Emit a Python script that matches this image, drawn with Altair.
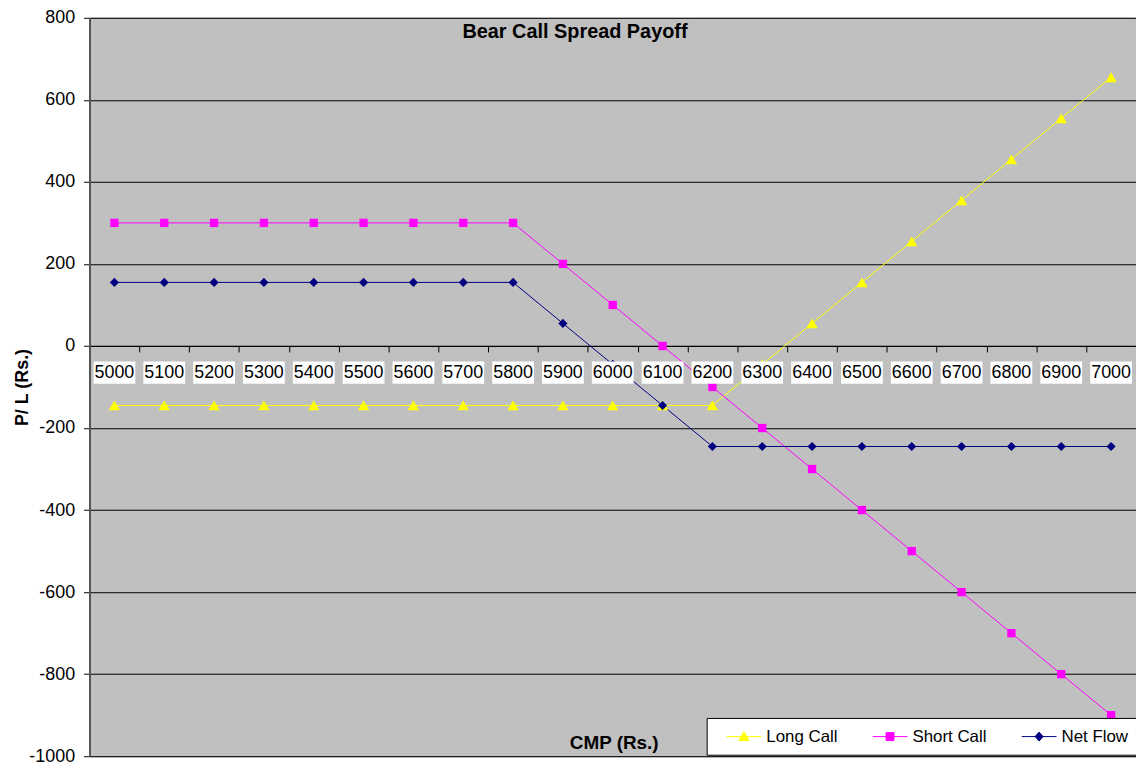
import altair as alt
import pandas as pd

FONT = "Liberation Sans"

cmp_values = [5000, 5100, 5200, 5300, 5400, 5500, 5600, 5700, 5800, 5900, 6000,
              6100, 6200, 6300, 6400, 6500, 6600, 6700, 6800, 6900, 7000]
long_call = [-145, -145, -145, -145, -145, -145, -145, -145, -145, -145, -145,
             -145, -145, -45, 55, 155, 255, 355, 455, 555, 655]
short_call = [300, 300, 300, 300, 300, 300, 300, 300, 300, 200, 100,
              0, -100, -200, -300, -400, -500, -600, -700, -800, -900]
net_flow = [155, 155, 155, 155, 155, 155, 155, 155, 155, 55, -45,
            -145, -245, -245, -245, -245, -245, -245, -245, -245, -245]
series_names = ["Long Call", "Short Call", "Net Flow"]
series_colors = ["#FFFF00", "#FF00FF", "#000080"]
y_ticks = [-1000, -800, -600, -400, -200, 0, 200, 400, 600, 800]

rows = []
for name, vals in zip(series_names, [long_call, short_call, net_flow]):
    for c, v in zip(cmp_values, vals):
        rows.append({"cmp": c, "value": v, "series": name})
df = pd.DataFrame(rows)
df_labels = pd.DataFrame({"cmp": cmp_values})

W, H = 1053, 743
zero_px = H * 800 / 1800

xaxis = alt.Axis(orient="bottom", offset=-(H - zero_px), domainColor="black", domainWidth=1,
                 ticks=True, tickColor="black", tickSize=6, tickBand="extent", labels=False,
                 grid=False, title="CMP (Rs.)", titleFont=FONT, titleFontSize=19,
                 titleFontWeight="bold", titleColor="black", titleX=W / 2 + 1, titleY=399,
                 titleAlign="center", titleBaseline="middle")
xenc = alt.X("cmp:O", scale=alt.Scale(type="band", paddingInner=0, paddingOuter=0), axis=xaxis)

yaxis = alt.Axis(values=y_ticks, grid=True, gridColor="black", gridWidth=1,
                 domainColor="#555555", domainWidth=2, tickColor="black", tickSize=6,
                 labelPadding=9, labelFont=FONT, labelFontSize=18, labelColor="black",
                 labelExpr="'' + datum.value",
                 title="P/ L (Rs.)", titleFont=FONT, titleFontSize=18, titleFontWeight="bold",
                 titleColor="black", titleX=-67, titleY=H / 2, titleAngle=-90,
                 titleAlign="center", titleBaseline="middle")
yenc = alt.Y("value:Q", scale=alt.Scale(domain=[-1000, 800], nice=False, zero=False), axis=yaxis)

base = alt.Chart(df)

layers = []
for name, col in zip(series_names, series_colors):
    layers.append(base.transform_filter(alt.datum.series == name)
                  .mark_line(color=col, strokeWidth=1).encode(x=xenc, y=yenc))
shapes = {"Long Call": ("triangle-up", 130), "Short Call": ("square", 70), "Net Flow": ("diamond", 85)}
for name, col in zip(series_names, series_colors):
    shp, sz = shapes[name]
    layers.append(base.transform_filter(alt.datum.series == name)
                  .mark_point(color=col, filled=True, opacity=1, shape=shp, size=sz)
                  .encode(x=xenc, y=yenc))

legend = alt.Legend(title=None, orient="none", legendX=621, legendY=704.5, direction="horizontal",
                    fillColor="white", strokeColor="black", padding=10, labelFont=FONT,
                    labelFontSize=17, labelColor="black", symbolSize=100, symbolStrokeWidth=1,
                    symbolOffset=19, labelOffset=14, columnPadding=25, symbolOpacity=1)
legend_paths = ["M-3.5,0H3.5M0,-1L1,0.8L-1,0.8Z",
                "M-3.5,0H3.5M-0.8,-0.8H0.8V0.8H-0.8Z",
                "M-3.5,0H3.5M0,-0.9L0.8,0L0,0.9L-0.8,0Z"]
layers.append(base.mark_point(filled=True, opacity=0).encode(
    x=xenc, y=yenc,
    color=alt.Color("series:N", scale=alt.Scale(domain=series_names, range=series_colors), legend=legend),
    stroke=alt.Stroke("series:N", scale=alt.Scale(domain=series_names, range=series_colors), legend=legend),
    shape=alt.Shape("series:N", scale=alt.Scale(domain=series_names, range=legend_paths), legend=legend),
))

label_base = alt.Chart(df_labels)
layers.append(label_base.mark_rect(fill="white", width=42).encode(
    x=xenc, y=alt.datum(-38), y2=alt.datum(-92)))
layers.append(label_base.mark_text(font=FONT, fontSize=18, color="black", baseline="middle").encode(
    x=xenc, y=alt.datum(-66), text="cmp:O"))

chart = alt.layer(*layers).properties(
    width=W, height=H,
    autosize="none",
    padding={"left": 82, "top": 7.5, "right": 0, "bottom": 8},
    title=alt.TitleParams("Bear Call Spread Payoff", font=FONT, fontSize=20, fontWeight="bold",
                          color="black", anchor="middle", dx=-38, dy=26, offset=-17,
                          baseline="middle"),
).configure_view(fill="#C0C0C0", stroke="#808080", strokeWidth=1
).configure_legend(strokeWidth=1, cornerRadius=0)

chart.save("out.html", embed_options={"renderer": "svg", "actions": False})
